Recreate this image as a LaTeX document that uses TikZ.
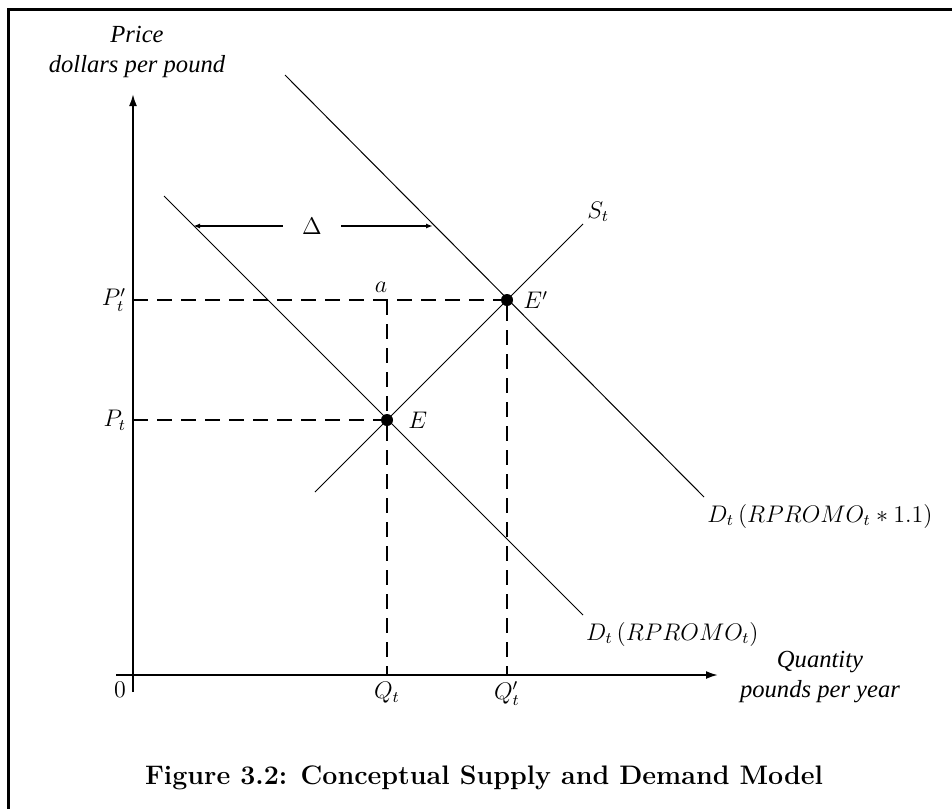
\documentclass[tikz,border=0pt]{standalone}
\usepackage{fontspec}
\newfontfamily\axisfont{Liberation Serif}
\usepackage{tikz}
\usetikzlibrary{positioning, arrows.meta}

\begin{document}
\begin{tikzpicture}[x=0.5pt, y=-0.5pt,
  font=\fontsize{12}{14}\selectfont,
  axis/.style={line width=1pt, -{Latex[length=6pt, width=4pt]}},
  curve/.style={line width=0.5pt},
  guide/.style={line width=0.9pt, dash pattern=on 7.5pt off 4.5pt},
  shiftarrow/.style={line width=0.8pt, -{Latex[length=3.5pt, width=2.5pt]}},
  eqdot/.style={circle, fill, inner sep=0pt, minimum size=6pt},
  axislabel/.style={font=\axisfont\itshape\fontsize{12.3}{14.8}\selectfont, align=center},
]
  \useasboundingbox (0,0) rectangle (952,809);

  % Frame (top and left edge)
  \draw[line width=1.5pt] (952,9) -- (8,9) -- (8,809);

  % Axes
  \coordinate (origin) at (133,675);
  \coordinate (ybot) at (133,692);
  \coordinate (ytop) at (133,94);
  \coordinate (xbeg) at (116,675);
  \coordinate (xend) at (718,675);
  \draw[axis] (ybot) -- (ytop);
  \draw[axis] (xbeg) -- (xend);
  \node[below left] (zero) at (origin) {$0$};
  \node[axislabel] (price) at (137,52) {Price\\dollars per pound};
  \node[axislabel] (quantity) at (820,677) {Quantity\\pounds per year};

  % Equilibria
  \node[eqdot] (E) at (387,420) {};
  \node[eqdot] (Ep) at (507,300) {};
  \node[right=4pt of E] (Elab) {$E$};
  \node[right=1.5pt of Ep] (Eplab) {$E'$};

  % Supply and demand curves
  \coordinate (sbot) at (315,492);
  \coordinate (stop) at (583,224);
  \coordinate (dtop) at (164,196);
  \coordinate (dbot) at (583,615);
  \coordinate (dptop) at (285,75);
  \coordinate (dpbot) at (704,497);
  \draw[curve] (sbot) -- (stop);
  \draw[curve] (dtop) -- (dbot);
  \draw[curve] (dptop) -- (dpbot);
  \node[anchor=south west, inner sep=1pt, xshift=1pt] (slab) at (stop) {$S_t$};
  \node[anchor=north west, xshift=-2pt] (dlab) at (dbot) {$D_t\,(RPROMO_t)$};
  \node (dplab) at (820,516) {$D_t\,(RPROMO_t*1.1)$};

  % Shift of demand
  \coordinate (lefttip) at (193,226);
  \coordinate (righttip) at (433,226);
  \node[minimum width=29pt, inner sep=0pt] (delta) at (312,226) {$\Delta$};
  \draw[shiftarrow] (delta.west) -- (lefttip);
  \draw[shiftarrow] (delta.east) -- (righttip);

  % Dashed guides to the axes
  \coordinate (pp) at (133,300);
  \coordinate (p) at (133,420);
  \coordinate (a) at (387,300);
  \coordinate (q) at (387,675);
  \coordinate (qp) at (507,675);
  \draw[guide] (pp) -- (Ep);
  \draw[guide] (p) -- (E);
  \draw[guide] (a) -- (E);
  \draw[guide] (E) -- (q);
  \draw[guide] (Ep) -- (qp);
  \node[left] (pplab) at (pp) {$P'_t$};
  \node[left] (plab) at (p) {$P_t$};
  \node[anchor=south, xshift=-3pt] (alab) at (a) {$a$};
  \node[below] (qlab) at (q) {$Q_t$};
  \node[below] (qplab) at (qp) {$Q'_t$};

  % Caption
  \node[font=\bfseries\fontsize{13.4}{15}\selectfont] (caption) at (484,778)
    {Figure 3.2: Conceptual Supply and Demand Model};
\end{tikzpicture}
\end{document}
